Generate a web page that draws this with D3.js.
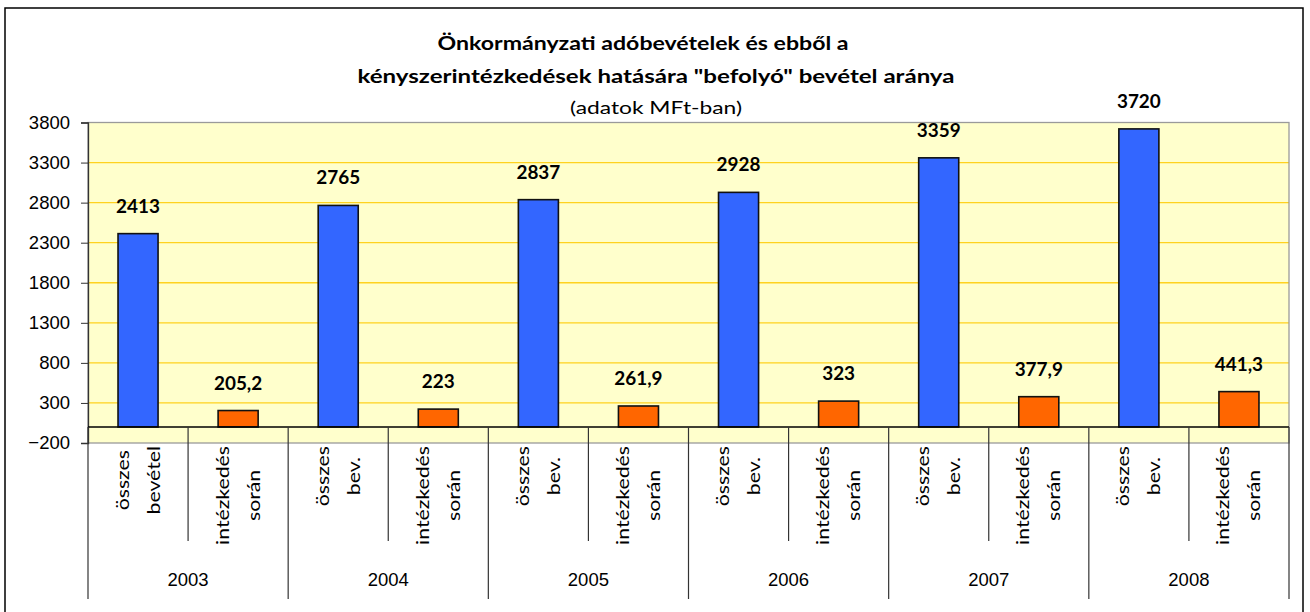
<!DOCTYPE html>
<html>
<head>
<meta charset="utf-8">
<script src="https://cdn.jsdelivr.net/npm/d3@7"></script>
<style>
  body { margin: 0; background: #fff; }
  svg { display: block; }
</style>
</head>
<body>
<svg id="chart" width="1310" height="612"></svg>
<script>

// data (MFt)
var years = ["2003", "2004", "2005", "2006", "2007", "2008"]
var totalLabels = [["összes", "bevétel"], ["összes", "bev."], ["összes", "bev."], ["összes", "bev."], ["összes", "bev."], ["összes", "bev."]]
var enforcedLabel = ["intézkedés", "során"]
var totalRevenue = [2413, 2765, 2837, 2928, 3359, 3720]
var enforcedRevenue = [205.2, 223, 261.9, 323, 377.9, 441.3]
var yTicks = [-200, 300, 800, 1300, 1800, 2300, 2800, 3300, 3800]

var titleLines = ["Önkormányzati adóbevételek és ebből a", "kényszerintézkedések hatására \"befolyó\" bevétel aránya"]
var subtitle = "(adatok MFt-ban)"

var svg = d3.select("#chart")

var plotL = 88, plotR = 1289, plotT = 122.5, plotB = 443

// build the 12 sub categories
var cats = []
years.forEach(function(yr, i){
  cats.push({key: yr + "a", year: yr, value: totalRevenue[i], lines: totalLabels[i], color: "#3366FF"})
  cats.push({key: yr + "b", year: yr, value: enforcedRevenue[i], lines: enforcedLabel, color: "#FF6600"})
})

var x = d3.scaleBand().domain(cats.map(function(d){ return d.key })).range([plotL, plotR]).paddingInner(0.6).paddingOuter(0.3)
var xYear = d3.scaleBand().domain(years).range([plotL, plotR])
var y = d3.scaleLinear().domain([-200, 3800]).range([plotB, plotT])

var fmt = function(v){ return String(v).replace(".", ",") }

// the original font is much wider, stretch text to get close
function stretch(sel, k){
  sel.each(function(){
    var w = this.getComputedTextLength()
    d3.select(this).attr("textLength", w * k).attr("lengthAdjust", "spacingAndGlyphs")
  })
}

// outer frame
svg.append("rect")
    .attr("x", 5).attr("y", 8)
    .attr("width", 1298).attr("height", 640)
    .attr("fill", "none").attr("stroke", "#000").attr("stroke-width", 1.5)

// titles
svg.append("text").attr("x", 643).attr("y", 50)
    .attr("text-anchor", "middle").style("font", "bold 18px Lato")
    .attr("textLength", 411).attr("lengthAdjust", "spacingAndGlyphs").text(titleLines[0])
svg.append("text").attr("x", 656).attr("y", 83)
    .attr("text-anchor", "middle").style("font", "bold 18px Lato")
    .attr("textLength", 597).attr("lengthAdjust", "spacingAndGlyphs").text(titleLines[1])
svg.append("text").attr("x", 656).attr("y", 114)
    .attr("text-anchor", "middle").style("font", "17px Lato")
    .attr("textLength", 172).attr("lengthAdjust", "spacingAndGlyphs").text(subtitle)

// plot area
svg.append("rect")
    .attr("x", plotL).attr("y", plotT)
    .attr("width", plotR - plotL).attr("height", plotB - plotT)
    .attr("fill", "#FFFFCC")

svg.append("g").selectAll("line")
    .data(yTicks.slice(1, -1))
  .enter().append("line")
    .attr("x1", plotL).attr("x2", plotR)
    .attr("y1", function(d){ return y(d) }).attr("y2", function(d){ return y(d) })
    .attr("stroke", "#FFD21F").attr("stroke-width", 1.3)

svg.append("rect")
    .attr("x", plotL).attr("y", plotT)
    .attr("width", plotR - plotL).attr("height", plotB - plotT)
    .attr("fill", "none").attr("stroke", "#9a9a9a").attr("stroke-width", 1.3)

// y axis
var yAxis = svg.append("g")
    .attr("transform", "translate(" + plotL + ",0)")
    .call(d3.axisLeft(y).tickValues(yTicks).tickSize(7).tickPadding(11).tickFormat(d3.format("d")))
yAxis.select(".domain").attr("stroke", "#333").attr("stroke-width", 1.3)
yAxis.selectAll(".tick line").attr("stroke", "#333")
yAxis.selectAll("text").style("font", "18.5px 'Liberation Sans'").attr("fill", "#000")

// bars
svg.append("g").selectAll("rect")
    .data(cats)
  .enter().append("rect")
    .attr("x", function(d){ return x(d.key) })
    .attr("y", function(d){ return y(d.value) })
    .attr("width", x.bandwidth())
    .attr("height", function(d){ return y(0) - y(d.value) })
    .attr("fill", function(d){ return d.color })
    .attr("stroke", "#111").attr("stroke-width", 1.6)

// value labels
svg.append("g").selectAll("text")
    .data(cats)
  .enter().append("text")
    .attr("x", function(d){ return x(d.key) + x.bandwidth() / 2 })
    .attr("y", function(d){ return y(d.value) - 21 })
    .attr("text-anchor", "middle")
    .style("font", "bold 18px Lato")
    .text(function(d){ return fmt(d.value) })
    .call(stretch, 1.05)

// category axis at zero
svg.append("line")
    .attr("x1", plotL).attr("x2", plotR)
    .attr("y1", y(0)).attr("y2", y(0))
    .attr("stroke", "#000").attr("stroke-width", 1.3)

// separators between the two bars of a year
svg.append("g").selectAll("line")
    .data(years)
  .enter().append("line")
    .attr("x1", function(d){ return xYear(d) + xYear.bandwidth() / 2 })
    .attr("x2", function(d){ return xYear(d) + xYear.bandwidth() / 2 })
    .attr("y1", y(0)).attr("y2", 541)
    .attr("stroke", "#333").attr("stroke-width", 1.2)

// year separators
svg.append("g").selectAll("line")
    .data(years.concat(["end"]))
  .enter().append("line")
    .attr("x1", function(d, i){ return plotL + i * xYear.bandwidth() })
    .attr("x2", function(d, i){ return plotL + i * xYear.bandwidth() })
    .attr("y1", y(0)).attr("y2", 599)
    .attr("stroke", "#333").attr("stroke-width", 1.2)

// rotated sub category labels
svg.append("g").selectAll("g")
    .data(cats)
  .enter().append("g")
  .each(function(d){
    var g = d3.select(this)
    var cx = x(d.key) + x.bandwidth() / 2
    var texts = g.selectAll("text").data(d.lines).enter().append("text")
        .attr("text-anchor", "middle")
        .style("font", "18px Lato")
        .text(function(t){ return t })
        .call(stretch, 1.18)
    var maxLen = 0
    texts.each(function(){ maxLen = Math.max(maxLen, +this.getAttribute("textLength")) })
    var cy = 446 + maxLen / 2
    texts.attr("transform", function(t, i){
      var lx = cx + (i - 0.5) * 31 + 6
      return "translate(" + lx + "," + cy + ") rotate(-90)"
    })
  })

// year labels
svg.append("g").selectAll("text")
    .data(years)
  .enter().append("text")
    .attr("x", function(d){ return xYear(d) + xYear.bandwidth() / 2 })
    .attr("y", 586)
    .attr("text-anchor", "middle")
    .style("font", "18.5px 'Liberation Sans'")
    .text(function(d){ return d })

</script>
</body>
</html>
